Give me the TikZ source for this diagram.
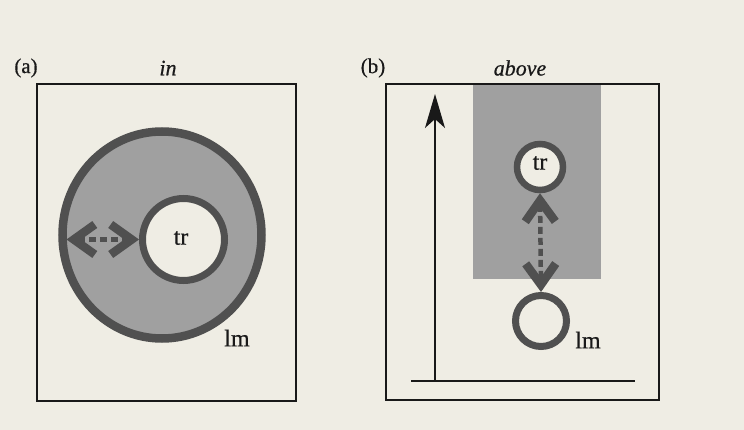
\documentclass[tikz,border=0pt]{standalone}
\usepackage{fontspec}
\setmainfont{Liberation Serif}[FakeBold=0.6]
\usetikzlibrary{arrows.meta,shapes.geometric}
\definecolor{paper}{RGB}{239,237,228}
\definecolor{ringc}{RGB}{80,80,80}
\definecolor{shadec}{RGB}{160,160,160}
\definecolor{ink}{RGB}{25,25,25}
\begin{document}
\begin{tikzpicture}[x=1pt,y=-1pt,
  frame/.style={draw=ink,line width=2pt},
  axisline/.style={draw=ink,line width=1.6pt},
  ringnode/.style={circle,draw=ringc,inner sep=0pt,fill=paper},
  lbl/.style={font=\fontsize{21}{24}\selectfont,text=ink,inner sep=0pt},
  rel/.style={font=\fontsize{22}{24}\selectfont\itshape,text=ink,inner sep=0pt},
  obj/.style={font=\fontsize{24}{26}\selectfont,text=ink,inner sep=0pt},
  chev/.tip={Straight Barb[length=21pt,width=30pt,line width=8.5pt]},
  conn/.style={draw=ringc,line width=4.5pt,dash pattern=on 7pt off 4pt,chev-chev}
]
\useasboundingbox (0,0) rectangle (744,430);
\fill[paper] (0,0) rectangle (744,430);

% ---------- panel (a) ----------
\node[lbl] (la) at (26,68) {(a)};
\node[rel] (ina) at (168,68) {in};
\draw[frame] (37,84) rectangle (296,401);
\node[ellipse,draw=ringc,line width=8.5pt,fill=shadec,inner sep=0pt,
      minimum width=199pt,minimum height=207pt] (lmA) at (162,235) {};
\node[ringnode,line width=7pt,minimum size=82pt,outer sep=3.5pt] (trA) at (183.5,239.5) {};
\node[obj] (trAt) at (181,238) {tr};
\coordinate (aL) at (66.5,239.5);
\draw[conn] (aL) -- (trA.west);
\node[obj] (lmAt) at (237,338) {lm};

% ---------- panel (b) ----------
\node[lbl] (lb) at (373,68) {(b)};
\node[rel] (abv) at (520,68) {above};
\fill[shadec] (473,84) rectangle (601,279);
\draw[frame] (386,84) rectangle (659,400);
\coordinate (bl) at (411,381);
\coordinate (br) at (635,381);
\coordinate (ab) at (435,381);
\coordinate (at) at (435,94);
\draw[axisline] (bl) -- (br);
\draw[axisline,line width=1.4pt,-{Stealth[length=34pt,width=20pt,inset=9pt]}] (ab) -- (at);
\node[ringnode,line width=6.5pt,minimum size=46pt,outer sep=3.25pt] (trB) at (540,167) {};
\node[obj] (trBt) at (540,163) {tr};
\node[ringnode,line width=7pt,minimum size=51pt,outer sep=3.5pt] (lmB) at (541,321) {};
\draw[conn] (trB.south) -- (lmB.north);
\node[obj] (lmBt) at (588,340) {lm};
\end{tikzpicture}
\end{document}
